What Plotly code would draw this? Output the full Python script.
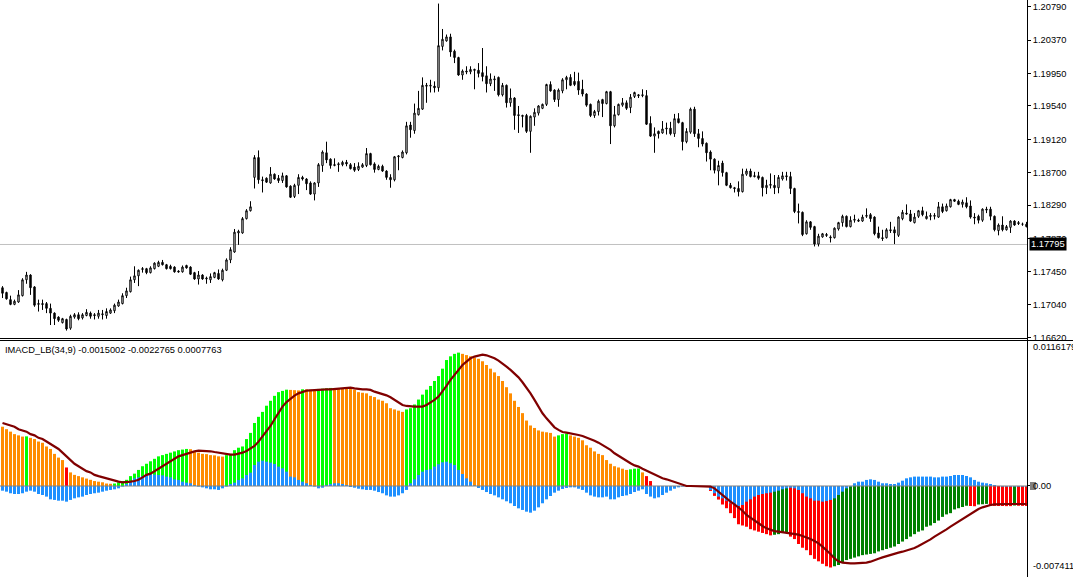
import plotly.graph_objects as go

# ---- price data (EURUSD-like, one value per bar) ----
open_ = [
    1.1725,1.1719,1.1710,1.1704,1.1707,1.1715,1.1735,1.1741,1.1726,1.1704,
    1.1705,1.1705,1.1699,1.1693,1.1688,1.1681,1.1685,1.1674,1.1688,1.1691,
    1.1687,1.1690,1.1693,1.1691,1.1689,1.1691,1.1690,1.1693,1.1696,1.1702,
    1.1705,1.1715,1.1720,1.1735,1.1740,1.1748,1.1749,1.1744,1.1749,1.1752,
    1.1757,1.1754,1.1752,1.1751,1.1746,1.1745,1.1753,1.1751,1.1744,1.1736,
    1.1741,1.1736,1.1735,1.1738,1.1743,1.1735,1.1747,1.1760,1.1770,1.1794,
    1.1794,1.1812,1.1822,1.1864,1.1889,1.1861,1.1863,1.1857,1.1868,1.1863,
    1.1860,1.1866,1.1853,1.1840,1.1854,1.1864,1.1862,1.1857,1.1843,1.1857,
    1.1879,1.1895,1.1887,1.1879,1.1880,1.1880,1.1883,1.1880,1.1877,1.1874,
    1.1877,1.1879,1.1894,1.1881,1.1874,1.1878,1.1872,1.1864,1.1861,1.1890,
    1.1889,1.1895,1.1930,1.1923,1.1943,1.1950,1.1980,1.1979,1.1979,1.1977,
    1.2029,1.2036,1.2041,1.2023,1.2015,1.1993,1.1998,1.1997,1.2000,1.1999,
    1.1996,1.1992,1.1982,1.1987,1.1990,1.1968,1.1980,1.1958,1.1964,1.1943,
    1.1942,1.1942,1.1922,1.1940,1.1945,1.1951,1.1956,1.1981,1.1974,1.1962,
    1.1973,1.1987,1.1990,1.1985,1.1985,1.1975,1.1969,1.1956,1.1942,1.1947,
    1.1962,1.1957,1.1972,1.1929,1.1943,1.1955,1.1958,1.1952,1.1966,1.1968,
    1.1967,1.1967,1.1932,1.1916,1.1922,1.1920,1.1925,1.1926,1.1919,1.1938,
    1.1933,1.1909,1.1921,1.1950,1.1919,1.1913,1.1907,1.1896,1.1887,1.1872,
    1.1882,1.1870,1.1854,1.1851,1.1850,1.1846,1.1868,1.1872,1.1865,1.1866,
    1.1864,1.1851,1.1854,1.1854,1.1851,1.1862,1.1866,1.1865,1.1850,1.1821,
    1.1820,1.1793,1.1808,1.1802,1.1780,1.1789,1.1792,1.1789,1.1788,1.1799,
    1.1807,1.1815,1.1802,1.1810,1.1810,1.1809,1.1815,1.1817,1.1814,1.1794,
    1.1788,1.1788,1.1798,1.1798,1.1791,1.1812,1.1819,1.1818,1.1807,1.1815,
    1.1822,1.1812,1.1816,1.1815,1.1814,1.1827,1.1822,1.1827,1.1836,1.1834,
    1.1830,1.1832,1.1828,1.1814,1.1815,1.1810,1.1824,1.1824,1.1815,1.1797,
    1.1804,1.1798,1.1801,1.1809,1.1807,1.1805,1.1805,
]
high = [
    1.1727,1.1720,1.1715,1.1710,1.1722,1.1737,1.1745,1.1742,1.1727,1.1710,
    1.1710,1.1707,1.1705,1.1694,1.1689,1.1687,1.1686,1.1691,1.1693,1.1694,
    1.1693,1.1698,1.1695,1.1693,1.1697,1.1697,1.1699,1.1699,1.1705,1.1710,
    1.1718,1.1725,1.1739,1.1752,1.1748,1.1751,1.1750,1.1752,1.1757,1.1759,
    1.1760,1.1755,1.1754,1.1752,1.1747,1.1753,1.1754,1.1752,1.1745,1.1746,
    1.1742,1.1739,1.1743,1.1745,1.1748,1.1749,1.1762,1.1776,1.1799,1.1798,
    1.1814,1.1824,1.1834,1.1892,1.1898,1.1865,1.1864,1.1877,1.1869,1.1867,
    1.1870,1.1867,1.1854,1.1856,1.1868,1.1866,1.1863,1.1859,1.1858,1.1882,
    1.1898,1.1909,1.1888,1.1888,1.1883,1.1885,1.1886,1.1882,1.1882,1.1883,
    1.1882,1.1901,1.1895,1.1883,1.1880,1.1880,1.1873,1.1868,1.1891,1.1892,
    1.1898,1.1934,1.1934,1.1957,1.1973,1.1990,1.1983,1.1987,1.1985,1.2083,
    1.2051,1.2044,1.2045,1.2025,1.2016,1.2000,1.2004,1.2004,1.2001,1.2008,
    1.2027,1.2004,1.1995,1.1992,1.1991,1.1983,1.1981,1.1976,1.1965,1.1954,
    1.1943,1.1944,1.1942,1.1951,1.1955,1.1957,1.1982,1.1985,1.1975,1.1976,
    1.1989,1.1992,1.1994,1.1997,1.1996,1.1987,1.1970,1.1957,1.1949,1.1962,
    1.1963,1.1973,1.1973,1.1954,1.1957,1.1964,1.1961,1.1969,1.1972,1.1969,
    1.1975,1.1974,1.1941,1.1927,1.1923,1.1935,1.1933,1.1934,1.1944,1.1945,
    1.1934,1.1926,1.1952,1.1953,1.1925,1.1922,1.1908,1.1898,1.1888,1.1885,
    1.1885,1.1871,1.1857,1.1852,1.1859,1.1875,1.1875,1.1875,1.1871,1.1871,
    1.1865,1.1861,1.1869,1.1867,1.1867,1.1871,1.1871,1.1871,1.1851,1.1831,
    1.1821,1.1810,1.1809,1.1803,1.1793,1.1794,1.1794,1.1791,1.1801,1.1808,
    1.1817,1.1816,1.1815,1.1817,1.1812,1.1817,1.1825,1.1819,1.1815,1.1802,
    1.1798,1.1800,1.1808,1.1802,1.1815,1.1823,1.1830,1.1823,1.1819,1.1823,
    1.1827,1.1821,1.1819,1.1819,1.1833,1.1831,1.1831,1.1837,1.1837,1.1836,
    1.1836,1.1839,1.1835,1.1819,1.1817,1.1825,1.1827,1.1827,1.1816,1.1806,
    1.1815,1.1804,1.1810,1.1810,1.1809,1.1807,1.1808,
]
low = [
    1.1712,1.1710,1.1703,1.1703,1.1706,1.1714,1.1730,1.1716,1.1701,1.1695,
    1.1697,1.1693,1.1678,1.1678,1.1682,1.1680,1.1671,1.1672,1.1686,1.1684,
    1.1685,1.1689,1.1686,1.1685,1.1686,1.1685,1.1686,1.1692,1.1693,1.1701,
    1.1704,1.1712,1.1719,1.1731,1.1727,1.1744,1.1742,1.1743,1.1748,1.1751,
    1.1753,1.1748,1.1748,1.1744,1.1744,1.1744,1.1749,1.1741,1.1735,1.1729,
    1.1735,1.1730,1.1731,1.1737,1.1735,1.1733,1.1746,1.1756,1.1769,1.1779,
    1.1793,1.1811,1.1821,1.1850,1.1856,1.1845,1.1857,1.1856,1.1861,1.1857,
    1.1857,1.1851,1.1838,1.1838,1.1843,1.1860,1.1848,1.1842,1.1835,1.1852,
    1.1871,1.1882,1.1875,1.1878,1.1871,1.1878,1.1878,1.1874,1.1871,1.1872,
    1.1876,1.1877,1.1879,1.1870,1.1873,1.1871,1.1861,1.1851,1.1859,1.1873,
    1.1888,1.1893,1.1914,1.1919,1.1942,1.1949,1.1958,1.1971,1.1971,1.1972,
    1.2024,1.2035,1.2016,1.2008,1.1992,1.1987,1.1994,1.1994,1.1975,1.1990,
    1.1985,1.1971,1.1979,1.1973,1.1966,1.1966,1.1952,1.1953,1.1924,1.1920,
    1.1927,1.1920,1.1895,1.1929,1.1942,1.1950,1.1954,1.1972,1.1959,1.1953,
    1.1970,1.1975,1.1979,1.1979,1.1968,1.1966,1.1953,1.1940,1.1939,1.1942,
    1.1940,1.1956,1.1906,1.1927,1.1942,1.1953,1.1949,1.1945,1.1964,1.1964,
    1.1965,1.1930,1.1915,1.1895,1.1913,1.1919,1.1918,1.1917,1.1915,1.1932,
    1.1898,1.1907,1.1919,1.1915,1.1902,1.1903,1.1884,1.1873,1.1869,1.1854,
    1.1865,1.1853,1.1850,1.1845,1.1840,1.1845,1.1866,1.1864,1.1864,1.1861,
    1.1840,1.1843,1.1850,1.1843,1.1844,1.1860,1.1860,1.1843,1.1819,1.1806,
    1.1790,1.1792,1.1798,1.1777,1.1777,1.1788,1.1789,1.1782,1.1787,1.1797,
    1.1802,1.1801,1.1801,1.1807,1.1808,1.1808,1.1813,1.1808,1.1791,1.1787,
    1.1784,1.1787,1.1794,1.1780,1.1789,1.1810,1.1817,1.1808,1.1806,1.1813,
    1.1815,1.1811,1.1810,1.1811,1.1813,1.1819,1.1821,1.1826,1.1833,1.1829,
    1.1826,1.1825,1.1812,1.1805,1.1806,1.1808,1.1819,1.1810,1.1796,1.1791,
    1.1796,1.1797,1.1794,1.1803,1.1804,1.1803,1.1801,
]
close = [
    1.1718,1.1711,1.1704,1.1708,1.1716,1.1735,1.1741,1.1725,1.1703,1.1705,
    1.1704,1.1699,1.1693,1.1686,1.1684,1.1686,1.1673,1.1689,1.1691,1.1686,
    1.1691,1.1694,1.1689,1.1690,1.1693,1.1692,1.1695,1.1697,1.1703,1.1707,
    1.1715,1.1721,1.1735,1.1740,1.1747,1.1749,1.1744,1.1750,1.1756,1.1757,
    1.1754,1.1749,1.1749,1.1745,1.1745,1.1751,1.1750,1.1742,1.1736,1.1741,
    1.1736,1.1737,1.1739,1.1744,1.1736,1.1747,1.1760,1.1773,1.1795,1.1796,
    1.1812,1.1822,1.1827,1.1889,1.1861,1.1860,1.1858,1.1868,1.1862,1.1860,
    1.1866,1.1852,1.1839,1.1854,1.1864,1.1862,1.1856,1.1843,1.1857,1.1880,
    1.1896,1.1886,1.1879,1.1880,1.1881,1.1883,1.1881,1.1875,1.1873,1.1878,
    1.1880,1.1894,1.1880,1.1874,1.1878,1.1872,1.1864,1.1861,1.1890,1.1891,
    1.1896,1.1929,1.1924,1.1945,1.1951,1.1980,1.1979,1.1980,1.1977,1.2030,
    1.2038,1.2041,1.2022,1.2015,1.1993,1.1998,1.1997,1.2000,1.1999,1.1995,
    1.1991,1.1982,1.1988,1.1988,1.1968,1.1980,1.1958,1.1964,1.1942,1.1942,
    1.1941,1.1922,1.1941,1.1946,1.1954,1.1956,1.1981,1.1973,1.1962,1.1974,
    1.1987,1.1990,1.1980,1.1981,1.1974,1.1969,1.1955,1.1942,1.1947,1.1960,
    1.1957,1.1972,1.1929,1.1943,1.1956,1.1958,1.1951,1.1965,1.1971,1.1967,
    1.1968,1.1931,1.1916,1.1919,1.1919,1.1925,1.1926,1.1919,1.1938,1.1933,
    1.1909,1.1922,1.1950,1.1919,1.1913,1.1906,1.1895,1.1887,1.1873,1.1879,
    1.1870,1.1854,1.1851,1.1850,1.1846,1.1868,1.1872,1.1865,1.1866,1.1863,
    1.1851,1.1854,1.1855,1.1851,1.1864,1.1866,1.1865,1.1850,1.1821,1.1820,
    1.1792,1.1808,1.1801,1.1780,1.1790,1.1793,1.1791,1.1788,1.1800,1.1807,
    1.1815,1.1802,1.1810,1.1811,1.1809,1.1814,1.1816,1.1812,1.1793,1.1788,
    1.1787,1.1798,1.1797,1.1794,1.1814,1.1820,1.1818,1.1809,1.1814,1.1822,
    1.1817,1.1815,1.1815,1.1816,1.1827,1.1821,1.1828,1.1836,1.1834,1.1830,
    1.1833,1.1827,1.1814,1.1813,1.1810,1.1824,1.1823,1.1815,1.1798,1.1804,
    1.1798,1.1802,1.1809,1.1804,1.1806,1.1805,1.1802,
]

# ---- IMACD_LB(34,9) indicator ----
imacd = [
    0.0048,0.0046,0.0044,0.0042,0.0041,0.0040,0.00402,0.0039,0.0038,0.0036,
    0.0035,0.0032,0.0030,0.0026,0.0023,0.0021,0.0015,0.0011,0.0009,0.0008,
    0.0007,0.0006,0.0005,0.0004,0.00035,0.0003,0.0002,0.00018,0.0002,0.0003,
    0.0004,0.0005,0.0008,0.0010,0.0013,0.0016,0.0018,0.0020,0.0022,0.0024,
    0.0025,0.0026,0.0027,0.0028,0.0029,0.00295,0.0030,0.00298,0.0028,0.0027,
    0.0026,0.00258,0.0025,0.00248,0.0024,0.00238,0.0025,0.0026,0.0029,0.0031,
    0.0032,0.0038,0.0043,0.0051,0.0056,0.0060,0.0065,0.0069,0.0073,0.0076,
    0.0077,0.0078,0.00778,0.00776,0.00774,0.00783,0.00782,0.00780,0.00779,0.00786,
    0.00788,0.00791,0.00794,0.00793,0.00792,0.00791,0.00790,0.00785,0.0078,0.0076,
    0.00755,0.0075,0.0073,0.0072,0.0070,0.0069,0.0067,0.0063,0.0062,0.0061,
    0.0060,0.0062,0.0063,0.0066,0.0070,0.0074,0.0078,0.0081,0.0085,0.0089,
    0.0095,0.0102,0.0105,0.0107,0.0108,0.0107,0.0106,0.0105,0.0104,0.0103,
    0.0101,0.0098,0.0095,0.0092,0.0089,0.0085,0.0080,0.0075,0.0069,0.0064,
    0.0059,0.0053,0.0049,0.0047,0.0045,0.0044,0.00435,0.0043,0.0040,0.0041,
    0.0042,0.00425,0.0041,0.0040,0.0039,0.0037,0.0033,0.0031,0.0028,0.0026,
    0.0025,0.0021,0.0018,0.0016,0.0015,0.0014,0.0013,0.00135,0.0014,0.00142,
    0.0011,0.0008,0.0004,0,0,0,0,0,0,0,
    0,0,0,0,0,0,0,-0.0004,-0.0008,-0.0011,
    -0.0015,-0.0018,-0.0022,-0.0026,-0.0031,-0.0032,-0.0033,-0.0035,-0.0036,-0.0037,
    -0.0038,-0.0039,-0.0040,-0.00395,-0.0039,-0.0038,-0.00375,-0.0041,-0.0043,-0.0047,
    -0.0050,-0.0052,-0.0056,-0.0059,-0.0061,-0.0063,-0.0065,-0.0066,-0.0065,-0.0064,
    -0.0062,-0.0060,-0.0059,-0.0058,-0.0057,-0.0056,-0.00555,-0.0055,-0.00545,-0.0053,
    -0.0052,-0.0051,-0.0050,-0.0049,-0.0047,-0.0045,-0.0043,-0.0041,-0.0039,-0.0037,
    -0.0036,-0.0033,-0.0032,-0.0030,-0.0028,-0.0025,-0.0023,-0.0022,-0.0019,-0.0018,
    -0.0017,-0.0016,-0.00162,-0.00164,-0.0015,-0.00148,-0.00145,-0.0016,-0.00161,-0.00162,
    -0.00162,-0.00163,-0.00163,-0.00158,-0.0016,-0.00161,-0.00162,
]
signal = [
    0.0051,0.0050,0.0049,0.0048,0.0046,0.0045,0.0044,0.0042,0.0041,0.0039,
    0.0038,0.0036,0.0034,0.0032,0.0030,0.0027,0.0024,0.0021,0.0018,0.0016,
    0.0014,0.0012,0.0011,0.0009,0.0008,0.0007,0.0006,0.0005,0.0004,0.00035,
    0.0003,0.0003,0.00035,0.0004,0.0005,0.0007,0.0009,0.0010,0.0012,0.0014,
    0.0016,0.0018,0.0020,0.0022,0.0024,0.0025,0.0026,0.00275,0.0028,0.00286,
    0.00286,0.00284,0.00281,0.00275,0.0027,0.00262,0.00257,0.00254,0.00254,0.00259,
    0.0027,0.00284,0.00302,0.00324,0.00359,0.0040,0.0044,0.00486,0.0054,0.00594,
    0.00643,0.0068,0.0071,0.00732,0.0075,0.00764,0.00772,0.00775,0.00778,0.0078,
    0.0078,0.00783,0.00783,0.00786,0.00788,0.00791,0.00794,0.00797,0.00791,0.00786,
    0.00783,0.00783,0.00778,0.00764,0.00756,0.00745,0.00734,0.00718,0.00697,0.00675,
    0.00656,0.00648,0.00643,0.00643,0.00643,0.00643,0.00656,0.00675,0.00697,0.00724,
    0.00764,0.00810,0.00859,0.00899,0.00940,0.00980,0.01007,0.01034,0.01048,0.01058,
    0.01064,0.01058,0.01048,0.01034,0.01015,0.00994,0.00967,0.00940,0.00913,0.00880,
    0.00840,0.00797,0.00750,0.00697,0.00643,0.00589,0.00548,0.00508,0.00475,0.00454,
    0.00437,0.00432,0.00427,0.00419,0.00413,0.00405,0.00394,0.00381,0.00367,0.00351,
    0.00332,0.00313,0.00292,0.00265,0.00243,0.00224,0.00205,0.00184,0.00167,0.00157,
    0.00140,0.00124,0.00108,0.00089,0.00076,0.00062,0.00054,0.00043,0.00027,0.00016,
    0.00005,0,0,0,0,0,0,-0.00005,-0.00019,-0.00046,
    -0.00073,-0.00103,-0.00127,-0.00149,-0.00173,-0.00200,-0.00235,-0.00257,-0.00281,-0.00308,
    -0.00324,-0.00343,-0.00356,-0.00365,-0.00370,-0.00375,-0.00378,-0.00381,-0.00386,-0.00394,
    -0.00405,-0.00416,-0.00429,-0.00446,-0.00464,-0.00491,-0.00518,-0.00551,-0.00586,-0.00610,
    -0.00621,-0.00626,-0.00626,-0.00626,-0.00626,-0.00626,-0.00621,-0.00613,-0.00599,-0.00589,
    -0.00578,-0.00567,-0.00559,-0.00551,-0.00540,-0.00532,-0.00524,-0.00513,-0.00502,-0.00486,
    -0.00470,-0.00451,-0.00432,-0.00410,-0.00392,-0.00370,-0.00351,-0.00329,-0.00308,-0.00286,
    -0.00265,-0.00243,-0.00221,-0.00203,-0.00186,-0.00173,-0.00162,-0.00154,-0.00149,-0.00146,
    -0.00146,-0.00146,-0.00146,-0.00146,-0.00146,-0.00146,-0.00146,
]
hist = [
    -0.00038,-0.00046,-0.00059,-0.00065,-0.00065,-0.00059,-0.00046,-0.00038,-0.00046,-0.00065,
    -0.00073,-0.00086,-0.00108,-0.00113,-0.00119,-0.00119,-0.00127,-0.00113,-0.00100,-0.00092,
    -0.00086,-0.00073,-0.00065,-0.00059,-0.00054,-0.00046,-0.00038,-0.00032,-0.00027,-0.00019,
    -0.00005,0.00016,0.00035,0.00062,0.00070,0.00081,0.00089,0.00097,0.00092,0.00089,
    0.00086,0.00076,0.00070,0.00054,0.00049,0.00035,0.00027,0.00022,0.00008,-0.00005,
    -0.00011,-0.00019,-0.00027,-0.00027,-0.00032,-0.00019,-0.00005,0.00016,0.00027,0.00049,
    0.00062,0.00089,0.00108,0.00170,0.00197,0.00205,0.00197,0.00189,0.00178,0.00157,
    0.00143,0.00116,0.00076,0.00070,0.00049,0.00035,0.00022,0.00008,-0.00005,-0.00019,
    -0.00014,0.00008,0.00016,0.00022,0.00022,0.00016,0.00008,-0.00008,-0.00014,-0.00022,
    -0.00027,-0.00032,-0.00032,-0.00038,-0.00049,-0.00059,-0.00076,-0.00086,-0.00086,-0.00076,
    -0.00059,-0.00032,0.00022,0.00054,0.00089,0.00116,0.00130,0.00135,0.00157,0.00176,
    0.00192,0.00197,0.00184,0.00170,0.00130,0.00097,0.00062,0.00035,0.00005,-0.00016,
    -0.00032,-0.00049,-0.00065,-0.00076,-0.00092,-0.00108,-0.00124,-0.00140,-0.00162,-0.00181,
    -0.00194,-0.00208,-0.00216,-0.00200,-0.00173,-0.00140,-0.00108,-0.00081,-0.00054,-0.00038,
    -0.00024,-0.00016,-0.00011,-0.00011,-0.00022,-0.00032,-0.00054,-0.00076,-0.00086,-0.00092,
    -0.00092,-0.00086,-0.00108,-0.00108,-0.00092,-0.00081,-0.00076,-0.00065,-0.00049,-0.00038,
    -0.00027,-0.00065,-0.00086,-0.00100,-0.00092,-0.00073,-0.00054,-0.00038,-0.00022,-0.00011,
    -0.00005,0,0,0,0,0,0,-0.00032,-0.00059,-0.00086,
    -0.00100,-0.00119,-0.00140,-0.00154,-0.00162,-0.00154,-0.00127,-0.00108,-0.00086,-0.00073,
    -0.00065,-0.00059,-0.00054,-0.00046,-0.00038,-0.00027,-0.00019,-0.00014,-0.00019,-0.00032,
    -0.00059,-0.00086,-0.00100,-0.00119,-0.00119,-0.00127,-0.00122,-0.00113,-0.00100,-0.00073,
    -0.00046,-0.00019,-0.00005,0.00022,0.00035,0.00035,0.00049,0.00054,0.00049,0.00035,
    0.00022,0.00022,0.00016,0.00016,0.00027,0.00043,0.00062,0.00070,0.00076,0.00076,
    0.00076,0.00076,0.00076,0.00070,0.00070,0.00076,0.00076,0.00081,0.00089,0.00089,
    0.00089,0.00081,0.00070,0.00049,0.00035,0.00027,0.00022,0.00016,0.00008,0.0,
    -0.00005,-0.00005,-0.00005,-0.00005,-0.00005,-0.00005,-0.00005,
]
# colour state of each IMACD bar, as runs: O=orange, G=lime, R=red, D=green
color_runs = [("O",6),("G",1),("O",9),("R",1),("O",11),("G",19),("O",9),("G",16),
              ("O",3),("G",1),("O",3),("G",4),("O",18),("G",14),("O",24),("G",3),
              ("O",15),("G",3),("O",1),("R",2),("O",14),("R",16),("D",4),("R",11),
              ("D",34),("R",2),("D",3),("R",6),("D",1),("R",3)]

price_ticks = [1.20790, 1.20370, 1.19950, 1.19540, 1.19120, 1.18700,
               1.18290, 1.17870, 1.17450, 1.17040, 1.16620]
hline_price = 1.17795
legend_text = "IMACD_LB(34,9) -0.0015002 -0.0022765 0.0007763"
ind_max_label = "0.0116179"
ind_min_label = "-0.007411"

palette = {"O": "#FF8C00", "G": "#00FF00", "R": "#FF0000", "D": "#008000"}
bar_colors = []
for c, n in color_runs:
    bar_colors += [palette[c]] * n

x = list(range(len(close)))

W, H = 1073, 577
RIGHT = 1027          # right edge of plotting area (px)
MAIN_BOTTOM = 339     # px
IND_TOP = 342         # px
FONT = "Liberation Sans"

def px(xp):
    return xp / W

def py(yp):
    return 1 - yp / H

fig = go.Figure()

fig.add_trace(go.Candlestick(
    x=x, open=open_, high=high, low=low, close=close,
    increasing=dict(line=dict(color="black", width=1), fillcolor="white"),
    decreasing=dict(line=dict(color="black", width=1), fillcolor="black"),
    whiskerwidth=0, xaxis="x", yaxis="y", showlegend=False, hoverinfo="skip",
))

fig.add_trace(go.Bar(x=x, y=imacd, marker=dict(color=bar_colors, line=dict(width=0)),
                     width=0.75, xaxis="x2", yaxis="y2", showlegend=False))
fig.add_trace(go.Bar(x=x, y=hist, marker=dict(color="#1E90FF", line=dict(width=0)),
                     width=0.75, xaxis="x2", yaxis="y2", showlegend=False))
# zero level
fig.add_trace(go.Scatter(x=[-1, len(x)], y=[0, 0], mode="lines",
                         line=dict(color="#808080", width=1.2),
                         xaxis="x2", yaxis="y2", showlegend=False, hoverinfo="skip"))
fig.add_trace(go.Scatter(x=x, y=signal, mode="lines",
                         line=dict(color="#800000", width=2.2),
                         xaxis="x2", yaxis="y2", showlegend=False))

xr = [-0.625, -0.625 + RIGHT / 4]
axis_common = dict(range=xr, showgrid=False, zeroline=False, showticklabels=False,
                   ticks="", showline=False, domain=[0, px(RIGHT)], automargin=False)

fig.update_layout(
    template="none",
    width=W, height=H, autosize=False,
    margin=dict(l=0, r=0, t=0, b=0, pad=0, autoexpand=False),
    paper_bgcolor="white", plot_bgcolor="white",
    barmode="overlay", boxgap=0.5,
    font=dict(family=FONT, size=9.3, color="black"),
    xaxis=dict(axis_common, anchor="y", rangeslider=dict(visible=False)),
    xaxis2=dict(axis_common, anchor="y2", matches="x"),
    yaxis=dict(domain=[py(MAIN_BOTTOM), 1], range=[1.16604, 1.20875],
               side="right", anchor="x", showgrid=False, zeroline=False, automargin=False,
               tickvals=price_ticks, ticktext=[f"{v:.5f}" for v in price_ticks],
               ticks="outside", ticklen=3, tickcolor="black",
               showline=True, linecolor="black", linewidth=1,
               tickfont=dict(family=FONT, size=9.3, color="black")),
    yaxis2=dict(domain=[0, py(IND_TOP)], range=[-0.00737, 0.01166],
                side="right", anchor="x2", showgrid=False, zeroline=False, automargin=False,
                showticklabels=False, ticks="outside", ticklen=3, tickcolor="black",
                tickvals=[0], showline=True, linecolor="black", linewidth=1),
    showlegend=False,
)

shapes = [
    # current price level line
    dict(type="line", xref="paper", yref="y", x0=0, x1=px(RIGHT),
         y0=hline_price, y1=hline_price, line=dict(color="#C0C0C0", width=1), layer="below"),
    # window separators (placed on pixel centres so they stay crisp)
    dict(type="line", xref="paper", yref="paper", x0=0, x1=px(RIGHT),
         y0=py(338.5), y1=py(338.5), line=dict(color="black", width=1)),
    dict(type="line", xref="paper", yref="paper", x0=0, x1=1,
         y0=py(340.5), y1=py(340.5), line=dict(color="black", width=1)),
    dict(type="line", xref="paper", yref="paper", x0=px(RIGHT + 0.5), x1=px(RIGHT + 0.5),
         y0=0, y1=1, line=dict(color="black", width=1)),
    # grey marker behind the zero label
    dict(type="rect", xref="paper", yref="paper", x0=px(1030), x1=px(1036),
         y0=py(490), y1=py(482), fillcolor="#808080", line=dict(width=0)),
]
fig.update_layout(shapes=shapes)

fig.add_annotation(x=px(1029), y=hline_price, xref="paper", yref="y",
                   text=f"{hline_price:.5f}", showarrow=False, xanchor="left",
                   yanchor="middle", bgcolor="black", borderpad=1,
                   font=dict(family=FONT, size=9.3, color="white"))
fig.add_annotation(x=px(3), y=py(350), xref="paper", yref="paper", text=legend_text,
                   showarrow=False, xanchor="left", yanchor="middle",
                   font=dict(family=FONT, size=9.3, color="black"))
fig.add_annotation(x=px(1031), y=py(347), xref="paper", yref="paper", text=ind_max_label,
                   showarrow=False, xanchor="left", yanchor="middle")
fig.add_annotation(x=px(1031), y=0, xref="paper", yref="y2", text="0.00",
                   showarrow=False, xanchor="left", yanchor="middle")
fig.add_annotation(x=px(1031), y=py(566), xref="paper", yref="paper", text=ind_min_label,
                   showarrow=False, xanchor="left", yanchor="middle")

# page body has a default 8px margin and may scroll; pin the figure at 0,0
page_fix = ("document.documentElement.style.overflow='hidden';"
            "document.body.style.margin='0';document.body.style.overflow='hidden';")
fig.write_html("out.html", config={"displayModeBar": False, "staticPlot": True},
               post_script=page_fix)
